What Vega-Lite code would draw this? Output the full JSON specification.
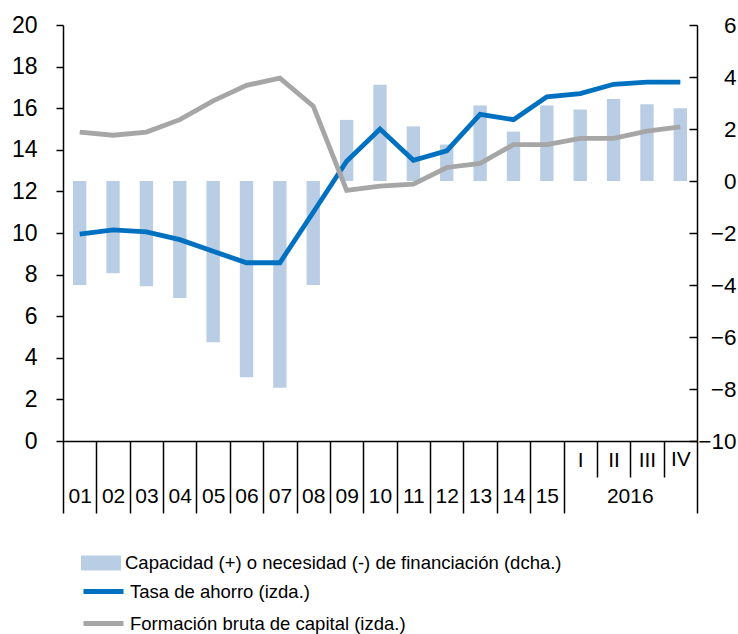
{
  "$schema": "https://vega.github.io/schema/vega-lite/v6.json",
  "width": 634,
  "height": 416,
  "autosize": {"type": "none"},
  "padding": {"left": 63, "top": 25, "right": 41, "bottom": 193},
  "config": {
    "view": {"stroke": null},
    "font": "Liberation Sans",
    "axis": {
      "labelFont": "Liberation Sans",
      "labelColor": "#000000",
      "domainColor": "#000000",
      "tickColor": "#000000",
      "domainWidth": 1.5,
      "tickWidth": 1.5,
      "grid": false,
      "title": null
    },
    "legend": {
      "labelFont": "Liberation Sans",
      "labelFontSize": 18.5,
      "labelColor": "#000000",
      "labelLimit": 0,
      "padding": 0
    }
  },
  "data": {
    "values": [
      {"cat": "01", "cap": -4.0, "tasa": 9.95, "fbc": 14.85},
      {"cat": "02", "cap": -3.55, "tasa": 10.15, "fbc": 14.7},
      {"cat": "03", "cap": -4.05, "tasa": 10.05, "fbc": 14.85},
      {"cat": "04", "cap": -4.5, "tasa": 9.68, "fbc": 15.45},
      {"cat": "05", "cap": -6.2, "tasa": 9.12, "fbc": 16.35},
      {"cat": "06", "cap": -7.55, "tasa": 8.57, "fbc": 17.1},
      {"cat": "07", "cap": -7.95, "tasa": 8.57, "fbc": 17.45},
      {"cat": "08", "cap": -4.0, "tasa": 11.0, "fbc": 16.1},
      {"cat": "09", "cap": 2.35, "tasa": 13.45, "fbc": 12.05},
      {"cat": "10", "cap": 3.7, "tasa": 15.0, "fbc": 12.25},
      {"cat": "11", "cap": 2.1, "tasa": 13.5, "fbc": 12.35},
      {"cat": "12", "cap": 1.4, "tasa": 13.95, "fbc": 13.15},
      {"cat": "13", "cap": 2.9, "tasa": 15.7, "fbc": 13.35},
      {"cat": "14", "cap": 1.9, "tasa": 15.45, "fbc": 14.25},
      {"cat": "15", "cap": 2.9, "tasa": 16.55, "fbc": 14.25},
      {"cat": "I", "cap": 2.75, "tasa": 16.7, "fbc": 14.55},
      {"cat": "II", "cap": 3.15, "tasa": 17.15, "fbc": 14.55},
      {"cat": "III", "cap": 2.95, "tasa": 17.25, "fbc": 14.9},
      {"cat": "IV", "cap": 2.8, "tasa": 17.25, "fbc": 15.1}
    ]
  },
  "layer": [
    {
      "mark": {"type": "bar", "width": {"band": 0.4}},
      "encoding": {
        "x": {
          "field": "cat", "type": "ordinal", "sort": null,
          "scale": {"paddingInner": 0, "paddingOuter": 0},
          "axis": {
            "orient": "bottom",
            "tickBand": "extent",
            "labelAngle": 0,
            "labelFontSize": 21,
            "tickSize": {"condition": {"test": "datum.value === 'I' || datum.value === 'II' || datum.value === 'III'", "value": 36}, "value": 72},
            "labelPadding": {"condition": {"test": "datum.value === 'IV'", "value": -65}, "value": -28}
          }
        },
        "y": {
          "field": "cap", "type": "quantitative",
          "scale": {"domain": [-10, 6], "nice": false},
          "axis": {
            "orient": "right",
            "values": [-10, -8, -6, -4, -2, 0, 2, 4, 6],
            "tickSize": -8,
            "labelPadding": 47,
            "labelAlign": "right",
            "labelFontSize": 22.5
          }
        },
        "color": {
          "datum": "Capacidad (+) o necesidad (-) de financiación (dcha.)",
          "scale": {"range": ["#B9CDE5"]},
          "legend": {
            "orient": "none", "legendX": 28, "legendY": 528,
            "symbolType": "M-2,-0.75H2V0.75H-2Z",
            "symbolSize": 400,
            "symbolStrokeWidth": 0,
            "labelOffset": 14
          }
        }
      }
    },
    {
      "mark": {"type": "line", "strokeWidth": 4.8},
      "encoding": {
        "x": {"field": "cat", "type": "ordinal", "sort": null, "axis": null},
        "y": {
          "field": "tasa", "type": "quantitative",
          "scale": {"domain": [0, 20], "nice": false},
          "axis": {
            "orient": "left",
            "values": [0, 2, 4, 6, 8, 10, 12, 14, 16, 18, 20],
            "tickSize": 7,
            "labelPadding": 19,
            "labelFontSize": 23
          }
        },
        "stroke": {
          "datum": "Tasa de ahorro (izda.)",
          "scale": {
            "domain": ["Tasa de ahorro (izda.)", "Formación bruta de capital (izda.)"],
            "range": ["#0070C0", "#A6A6A6"]
          },
          "legend": {
            "orient": "none", "legendX": 28, "legendY": 554,
            "symbolType": "M-2,0H2",
            "symbolSize": 400,
            "symbolStrokeWidth": 4.8,
            "labelOffset": 14,
            "rowPadding": 9
          }
        }
      }
    },
    {
      "mark": {"type": "line", "strokeWidth": 4.8},
      "encoding": {
        "x": {
          "field": "cat", "type": "ordinal", "sort": null,
          "axis": {
            "orient": "bottom",
            "domain": false,
            "ticks": false,
            "tickSize": 0,
            "labelAngle": 0,
            "labelFontSize": 21,
            "labelPadding": 44,
            "labelOffset": -16.7,
            "labelExpr": "datum.value === 'III' ? '2016' : ''"
          }
        },
        "y": {"field": "fbc", "type": "quantitative", "scale": {"domain": [0, 20], "nice": false}, "axis": null},
        "stroke": {"datum": "Formación bruta de capital (izda.)"}
      }
    }
  ],
  "resolve": {"scale": {"y": "independent"}, "axis": {"x": "independent"}}
}
